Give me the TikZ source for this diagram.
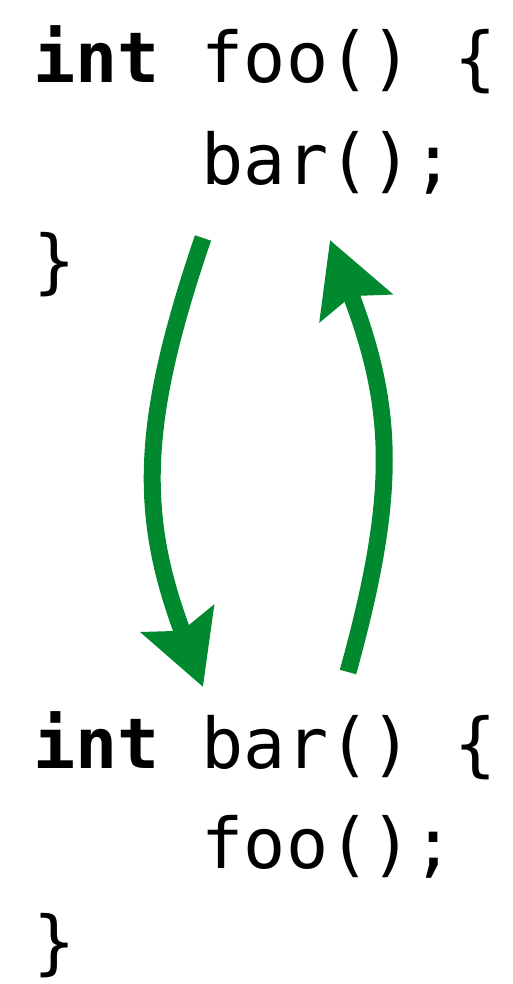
\documentclass[tikz,border=0pt]{standalone}
\usepackage{fontspec}
\usetikzlibrary{arrows.meta}
\newfontfamily\codefont{DejaVu Sans Mono}
\definecolor{callgreen}{RGB}{0,137,46}
\tikzset{
  codeline/.style={anchor=base west, inner sep=0pt, font=\codefont\fontsize{70}{80}\selectfont},
  callarrow/.style={draw=callgreen, line width=17pt,
    -{Stealth[length=72pt,width=76pt,inset=12pt]}}
}
\begin{document}
\begin{tikzpicture}[x=1pt,y=-1pt]
\useasboundingbox (0,0) rectangle (513,984);
\def\xa{33}
\def\xb{201.6}
% first function
\node[codeline] (l1) at (\xa,83) {\textbf{int} foo() \{};
\node[codeline] (l2) at (\xb,185) {bar();};
\node[codeline] (l3) at (\xa,285) {\}};
% second function
\node[codeline] (l4) at (\xa,768) {\textbf{int} bar() \{};
\node[codeline] (l5) at (\xb,868) {foo();};
\node[codeline] (l6) at (\xa,966) {\}};
% arrows
\coordinate (a1s) at (203,238);
\coordinate (a1e) at (203,687);
\coordinate (a2s) at (348,672);
\coordinate (a2e) at (330,240);
\draw[callarrow] (a1s) .. controls (139,425) and (139,516) .. (a1e);
\draw[callarrow] (a2s) .. controls (397,495) and (395,410) .. (a2e);
\end{tikzpicture}
\end{document}
